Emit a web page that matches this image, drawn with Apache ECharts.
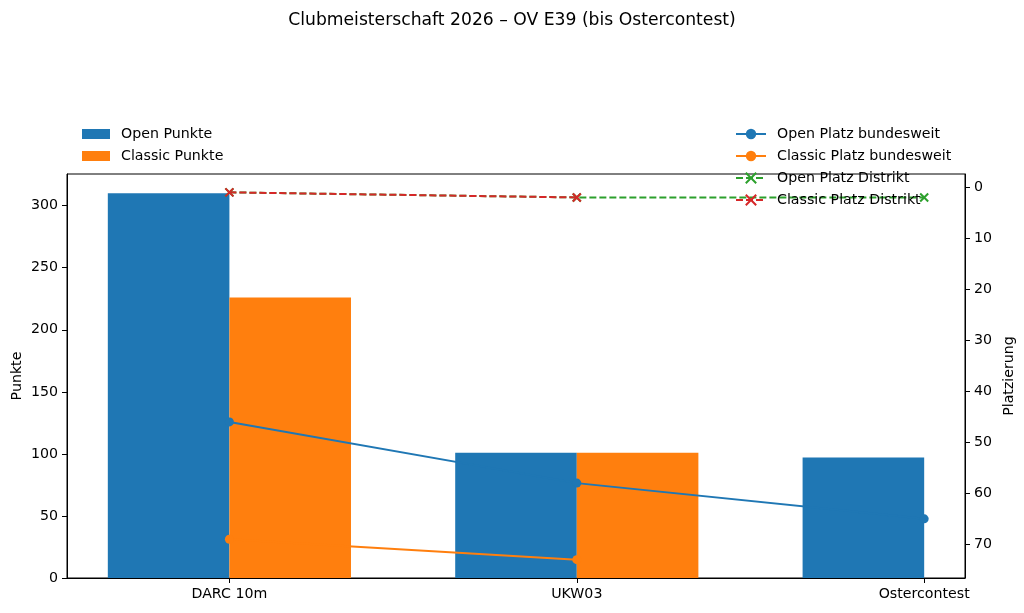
<!DOCTYPE html>
<html>
<head>
<meta charset="utf-8">
<script src="https://cdn.jsdelivr.net/npm/echarts@6/dist/echarts.min.js"></script>
<style>html,body{margin:0;padding:0;background:#fff}#c{width:1024px;height:613px}</style>
</head>
<body>
<div id="c"></div>
<script>
const categories = ['DARC 10m', 'UKW03', 'Ostercontest'];
const openPunkte = [310, 101, 97];
const classicPunkte = [226, 101, null];
const openPlatzBund = [46, 58, 65];
const classicPlatzBund = [69, 73, null];
const openPlatzDistrikt = [1, 2, 2];
const classicPlatzDistrikt = [1, 2, null];
const leftTicks = [0, 50, 100, 150, 200, 250, 300];
const rightTicks = [0, 10, 20, 30, 40, 50, 60, 70];

const FONT = 'DejaVu Sans';
const FS = 14.2;
const pts = arr => arr.map((v, i) => [i, v]);
const xSym = 'path://M0,0L10,10M10,0L0,10';

const chart = echarts.init(document.getElementById('c'), null, {renderer: 'canvas'});
const axisLine = {show: true, onZero: false, lineStyle: {color: '#000', width: 1}};
chart.setOption({
  animation: false,
  backgroundColor: '#fff',
  textStyle: {fontFamily: FONT},
  title: {
    text: 'Clubmeisterschaft 2026 – OV E39 (bis Ostercontest)',
    left: 'center', top: 7,
    textStyle: {fontFamily: FONT, fontSize: 17.2, fontWeight: 'normal', color: '#000'}
  },
  grid: {left: 67, right: 59, top: 174, bottom: 35, show: true, borderColor: '#000', borderWidth: 1, containLabel: false},
  legend: [
    {
      data: ['Open Punkte', 'Classic Punkte'],
      orient: 'vertical', left: 77, top: 122,
      icon: 'rect', itemWidth: 28, itemHeight: 10, itemGap: 8,
      textStyle: {fontFamily: FONT, fontSize: FS, color: '#000', padding: [0, 0, 0, 6]}
    },
    {
      data: ['Open Platz bundesweit', 'Classic Platz bundesweit', 'Open Platz Distrikt', 'Classic Platz Distrikt'],
      orient: 'vertical', left: 730, top: 122,
      itemWidth: 30, itemHeight: 13, itemGap: 8,
      textStyle: {fontFamily: FONT, fontSize: FS, color: '#000', padding: [0, 0, 0, 6]}
    }
  ],
  xAxis: {
    type: 'value', min: -0.4675, max: 2.1175,
    axisLine: axisLine, splitLine: {show: false},
    axisTick: {show: true, length: 5, lineStyle: {color: '#000'}, customValues: [0, 1, 2]},
    axisLabel: {customValues: [0, 1, 2], formatter: v => categories[Math.round(v)], color: '#000', fontSize: FS, fontFamily: FONT, margin: 9}
  },
  yAxis: [
    {
      type: 'value', min: 0, max: 325.5, position: 'left',
      name: 'Punkte', nameLocation: 'middle', nameGap: 43, nameRotate: 90, nameMoveOverlap: false,
      nameTextStyle: {fontFamily: FONT, fontSize: FS, color: '#000'},
      axisLine: axisLine, splitLine: {show: false},
      axisTick: {show: true, length: 5, lineStyle: {color: '#000'}, customValues: leftTicks},
      axisLabel: {customValues: leftTicks, color: '#000', fontSize: FS, fontFamily: FONT, margin: 9}
    },
    {
      type: 'value', min: -2.6, max: 76.6, inverse: true, position: 'right',
      name: 'Platzierung', nameLocation: 'middle', nameGap: 37, nameRotate: 90, nameMoveOverlap: false,
      nameTextStyle: {fontFamily: FONT, fontSize: FS, color: '#000'},
      axisLine: axisLine, splitLine: {show: false},
      axisTick: {show: true, length: 5, lineStyle: {color: '#000'}, customValues: rightTicks},
      axisLabel: {customValues: rightTicks, color: '#000', fontSize: FS, fontFamily: FONT, margin: 9}
    }
  ],
  series: [
    {name: 'Open Punkte', type: 'bar', yAxisIndex: 0, data: pts(openPunkte), barWidth: '35%', barGap: '0%', itemStyle: {color: '#1f77b4'}},
    {name: 'Classic Punkte', type: 'bar', yAxisIndex: 0, data: pts(classicPunkte), barWidth: '35%', barGap: '0%', itemStyle: {color: '#ff7f0e'}},
    {name: 'Open Platz bundesweit', type: 'line', yAxisIndex: 1, data: pts(openPlatzBund),
      symbol: 'circle', symbolSize: 9, lineStyle: {color: '#1f77b4', width: 2}, itemStyle: {color: '#1f77b4'}},
    {name: 'Classic Platz bundesweit', type: 'line', yAxisIndex: 1, data: pts(classicPlatzBund),
      symbol: 'circle', symbolSize: 9, lineStyle: {color: '#ff7f0e', width: 2}, itemStyle: {color: '#ff7f0e'}},
    {name: 'Open Platz Distrikt', type: 'line', yAxisIndex: 1, data: pts(openPlatzDistrikt),
      symbol: xSym, symbolSize: 8, lineStyle: {color: '#2ca02c', width: 2, type: [7, 3]},
      itemStyle: {color: '#2ca02c', borderColor: '#2ca02c', borderWidth: 2}},
    {name: 'Classic Platz Distrikt', type: 'line', yAxisIndex: 1, data: pts(classicPlatzDistrikt),
      symbol: xSym, symbolSize: 8, lineStyle: {color: '#d62728', width: 2, type: [7, 3]},
      itemStyle: {color: '#d62728', borderColor: '#d62728', borderWidth: 2}}
  ]
});
</script>
</body>
</html>
